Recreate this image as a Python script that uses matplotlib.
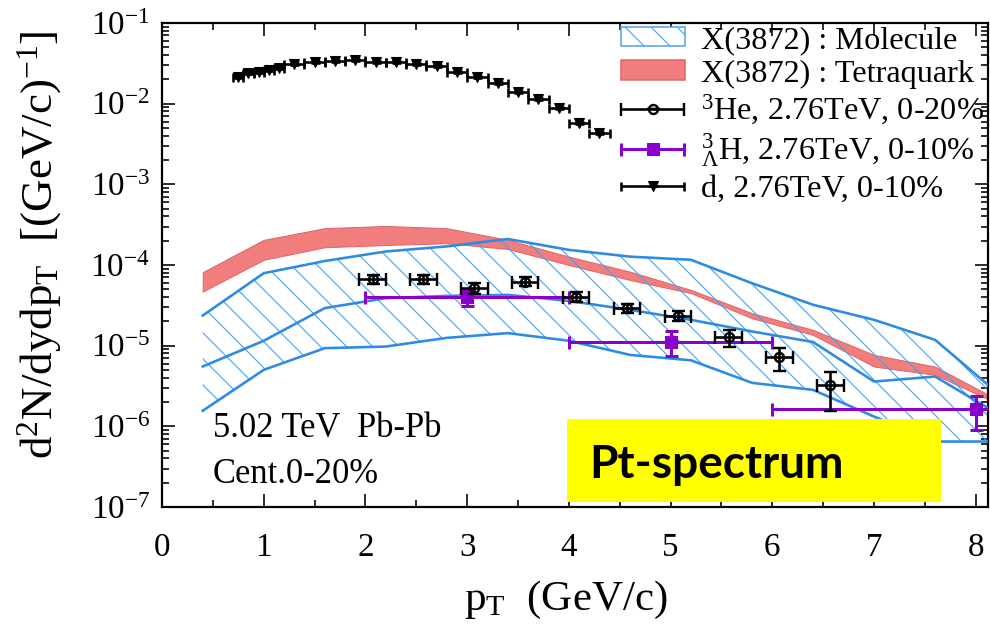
import matplotlib
matplotlib.use("Agg")
import matplotlib.pyplot as plt
from matplotlib.patches import Patch, Rectangle
from matplotlib.legend_handler import HandlerErrorbar
from matplotlib.ticker import MultipleLocator, LogLocator, NullFormatter

DPI = 78
W, H = 990, 629


def px(v):
    """Convert a size in pixels to points at the figure resolution."""
    return v * 72.0 / DPI


# ---- model bands for X(3872), 5.02 TeV Pb-Pb 0-20% ----
band_pt = [0.4, 1.0, 1.6, 2.2, 2.8, 3.4, 4.0, 4.6, 5.2, 5.8, 6.4, 7.0, 7.6, 8.2]
mol_upper = [2.36e-5, 7.91e-5, 1.12e-4, 1.47e-4, 1.70e-4, 2.10e-4, 1.54e-4,
             1.27e-4, 1.16e-4, 5.94e-5, 3.21e-5, 2.09e-5, 1.18e-5, 2.68e-6]
mol_central = [5.51e-6, 1.15e-5, 2.92e-5, 3.88e-5, 4.14e-5, 4.26e-5, 3.59e-5,
               2.78e-5, 2.09e-5, 1.50e-5, 1.11e-5, 3.59e-6, 4.14e-6, 1.47e-6]
mol_lower = [1.56e-6, 5.01e-6, 9.31e-6, 9.75e-6, 1.25e-5, 1.43e-5, 1.15e-5,
             7.69e-6, 6.58e-6, 3.46e-6, 2.83e-6, 1.32e-6, 6.48e-7, 6.48e-7]
tetra_upper = [8.15e-5, 2.05e-4, 2.86e-4, 3.05e-4, 2.86e-4, 2.05e-4, 1.27e-4,
               8.28e-5, 4.91e-5, 2.53e-5, 1.57e-5, 7.69e-6, 5.51e-6, 2.19e-6]
tetra_lower = [4.68e-5, 1.16e-4, 1.66e-4, 1.77e-4, 1.86e-4, 1.58e-4, 1.00e-4,
               6.53e-5, 4.48e-5, 2.19e-5, 1.36e-5, 5.51e-6, 4.35e-6, 1.95e-6]

# ---- deuteron, 2.76 TeV, 0-10% ----
d_pt = [0.75, 0.85, 0.95, 1.05, 1.15, 1.3, 1.5, 1.7, 1.9, 2.1, 2.3,
        2.5, 2.7, 2.9, 3.1, 3.3, 3.5, 3.7, 3.9, 4.1, 4.3]
d_xerr = [0.05, 0.05, 0.05, 0.05, 0.05, 0.1, 0.1, 0.1, 0.1, 0.1, 0.1,
          0.1, 0.1, 0.1, 0.1, 0.1, 0.1, 0.1, 0.1, 0.1, 0.1]
d_yield = [2.12e-2, 2.38e-2, 2.45e-2, 2.62e-2, 2.75e-2, 3.08e-2, 3.31e-2,
           3.41e-2, 3.48e-2, 3.31e-2, 3.26e-2, 3.10e-2, 2.96e-2, 2.49e-2,
           2.12e-2, 1.79e-2, 1.38e-2, 1.14e-2, 8.77e-3, 5.72e-3, 4.37e-3]
d_yerr = [0.6e-3, 0.7e-3, 0.7e-3, 0.8e-3, 0.8e-3, 0.9e-3, 1.0e-3, 1.0e-3,
          1.0e-3, 1.0e-3, 0.9e-3, 0.9e-3, 0.9e-3, 0.7e-3, 0.6e-3, 0.5e-3,
          0.4e-3, 0.35e-3, 0.27e-3, 0.18e-3, 0.14e-3]

# ---- 3He, 2.76 TeV, 0-20% ----
he3_pt = [2.07, 2.57, 3.07, 3.57, 4.07, 4.57, 5.07, 5.57, 6.07, 6.57]
he3_xerr = [0.13, 0.13, 0.13, 0.13, 0.13, 0.13, 0.13, 0.13, 0.13, 0.13]
he3_yield = [6.67e-5, 6.67e-5, 5.16e-5, 6.22e-5, 4.06e-5, 2.92e-5, 2.36e-5,
             1.27e-5, 7.2e-6, 3.27e-6]
he3_err_lo = [0.9e-5, 0.9e-5, 0.8e-5, 0.8e-5, 0.55e-5, 0.4e-5, 0.35e-5,
              0.3e-5, 2.4e-6, 1.7e-6]
he3_err_hi = [0.9e-5, 0.9e-5, 0.8e-5, 0.8e-5, 0.55e-5, 0.4e-5, 0.35e-5,
              0.3e-5, 2.2e-6, 1.5e-6]

# ---- hypertriton, 2.76 TeV, 0-10% ----
h3l_pt = [3.0, 5.0, 8.0]
h3l_xerr = [1.0, 1.0, 2.0]
h3l_yield = [4.06e-5, 1.12e-5, 1.65e-6]
h3l_err_lo = [1.0e-5, 0.37e-5, 0.74e-6]
h3l_err_hi = [0.86e-5, 0.41e-5, 0.76e-6]

BLUE = "#2d8be6"
HATCH_BLUE = "#4c9fea"
RED_FILL = "#f27d7d"
RED_EDGE = "#e36565"
PURPLE = "#8a00cc"

plt.rcParams["font.family"] = "Liberation Serif"
plt.rcParams["mathtext.fontset"] = "custom"
plt.rcParams["mathtext.rm"] = "Liberation Serif"
plt.rcParams["mathtext.it"] = "Liberation Serif:italic"
plt.rcParams["mathtext.bf"] = "Liberation Serif:bold"
plt.rcParams["mathtext.default"] = "regular"
plt.rcParams["axes.unicode_minus"] = False
plt.rcParams["hatch.linewidth"] = px(1.1)

fig = plt.figure(figsize=((W + 0.01) / DPI, (H + 0.01) / DPI), dpi=DPI)
ax = fig.add_axes([162 / W, 1 - 507 / H, (988 - 162) / W, (507 - 23) / H])

# tetraquark band
ax.fill_between(band_pt, tetra_lower, tetra_upper, facecolor=RED_FILL,
                edgecolor=RED_EDGE, linewidth=px(1.0), zorder=1)
# molecule band: hatched area with its three curves
ax.fill_between(band_pt, mol_lower, mol_upper, facecolor="none",
                edgecolor=HATCH_BLUE, hatch="\\", linewidth=0, zorder=2)
for curve in (mol_upper, mol_central, mol_lower):
    ax.plot(band_pt, curve, color=BLUE, linewidth=px(2.6), zorder=3)

# measured spectra
eb_d = ax.errorbar(d_pt, d_yield, xerr=d_xerr, yerr=d_yerr, fmt="v",
                   color="black", ms=px(10.5), elinewidth=px(2.6),
                   capsize=px(4.5), capthick=px(2.6), zorder=5)
eb_h3l = ax.errorbar(h3l_pt, h3l_yield, xerr=h3l_xerr,
                     yerr=[h3l_err_lo, h3l_err_hi], fmt="s", color=PURPLE,
                     ms=px(11.5), elinewidth=px(3.0), capsize=px(6.5),
                     capthick=px(3.0), zorder=5)
eb_he3 = ax.errorbar(he3_pt, he3_yield, xerr=he3_xerr,
                     yerr=[he3_err_lo, he3_err_hi], fmt="o", color="black",
                     mfc="none", mec="black", mew=px(2.4), ms=px(9),
                     elinewidth=px(2.6), capsize=px(6.5), capthick=px(2.6),
                     zorder=6)

ax.set_yscale("log")
ax.set_xlim(0, 8.12)
ax.set_ylim(1e-7, 1e-1)
ax.xaxis.set_major_locator(MultipleLocator(1))
ax.xaxis.set_minor_locator(MultipleLocator(0.5))
ax.yaxis.set_major_locator(LogLocator(base=10, numticks=20))
ax.yaxis.set_minor_locator(LogLocator(base=10, subs=[2, 3, 4, 5, 6, 7, 8, 9],
                                      numticks=20))
ax.yaxis.set_minor_formatter(NullFormatter())
ax.tick_params(which="both", direction="in", top=True, right=True,
               width=px(1.6), labelsize=px(33))
ax.tick_params(which="major", length=px(13))
ax.tick_params(which="minor", length=px(7))
ax.tick_params(axis="x", pad=px(25))
ax.tick_params(axis="y", pad=px(12))
for sp in ax.spines.values():
    sp.set_linewidth(px(2.2))

fig.text(40 / W, 1 - 245 / H,
         r"d$^{2}$N/dydp$_{\mathrm{T}}$  [(GeV/c)$^{-1}$]",
         rotation=90, ha="center", va="center", fontsize=px(45))
fig.text(566 / W, 1 - 600 / H, r"p$_{\mathrm{T}}$  (GeV/c)",
         ha="center", va="center", fontsize=px(43))

fig.text(213 / W, 1 - 437 / H, "5.02 TeV  Pb-Pb", fontsize=px(34.5),
         va="baseline")
fig.text(213 / W, 1 - 483 / H, "Cent.0-20%", fontsize=px(34.5),
         va="baseline")

# legend
mol_handle = Patch(facecolor="white", edgecolor=HATCH_BLUE, hatch="\\",
                   linewidth=px(1.5))
tetra_handle = Patch(facecolor=RED_FILL, edgecolor=RED_EDGE,
                     linewidth=px(1.5))
handles = [mol_handle, tetra_handle, eb_he3, eb_h3l, eb_d]
labels = ["X(3872) : Molecule", "X(3872) : Tetraquark",
          r"$^{3}$He, 2.76TeV, 0-20%",
          r"${}^{3}_{\Lambda}$H, 2.76TeV, 0-10%",
          "d, 2.76TeV, 0-10%"]
err_handler = HandlerErrorbar(xerr_size=0.98, yerr_size=0.0)
leg = ax.legend(handles, labels, loc="upper left",
                bbox_to_anchor=(621 / W, 1 - 26 / H),
                bbox_transform=fig.transFigure, frameon=False,
                fontsize=px(32.3), borderpad=0, borderaxespad=0,
                handlelength=1.97, handleheight=0.55, handletextpad=0.5,
                labelspacing=0.14,
                handler_map={type(eb_d): err_handler})
leg.set_zorder(8)

# highlighted caption box
fig.add_artist(Rectangle((567 / W, 1 - 502 / H), 374 / W, 83 / H,
                         transform=fig.transFigure, facecolor="#ffff00",
                         edgecolor="none", zorder=10))
fig.text(589 / W, 1 - 478 / H, "Pt-spectrum", family="Lato",
         fontweight="bold", fontsize=px(46), va="baseline", zorder=11)

fig.savefig("out.png", dpi=DPI)
